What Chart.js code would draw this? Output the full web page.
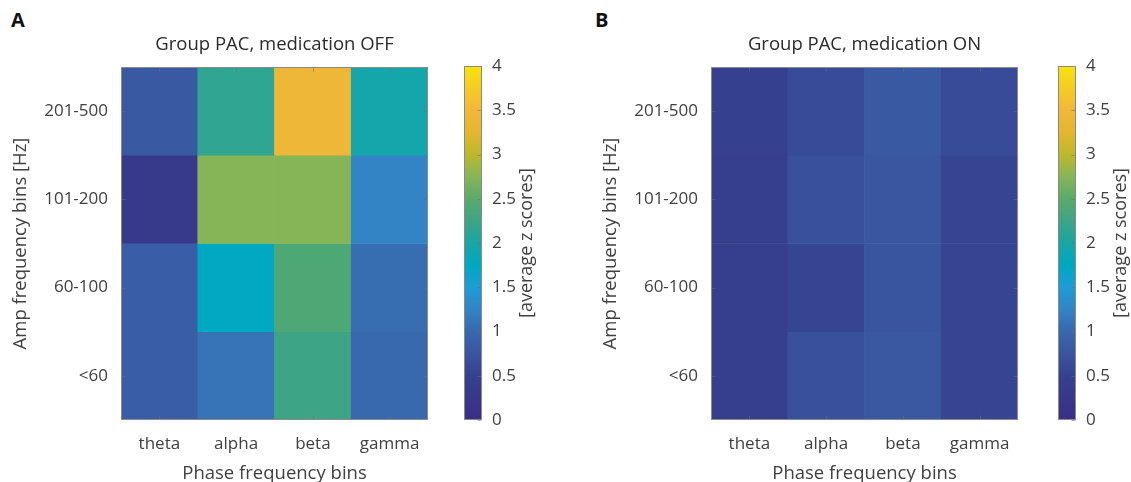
<!DOCTYPE html>
<html><head><meta charset="utf-8">
<script src="https://cdn.jsdelivr.net/npm/chart.js@4"></script>
<style>
html,body{margin:0;padding:0;background:#fff;width:1131px;height:482px;overflow:hidden;position:relative;}
.cv{position:absolute;top:0;}
.letter{position:absolute;font-family:"Open Sans",sans-serif;font-weight:bold;font-size:20px;color:#111;line-height:24px;}
</style></head><body>
<div class="letter" style="left:11px;top:8px">A</div>
<div class="letter" style="left:595px;top:8px">B</div>
<canvas class="cv" id="hA" width="450" height="482" style="left:0px"></canvas>
<canvas class="cv" id="cA" width="110" height="482" style="left:455px"></canvas>
<canvas class="cv" id="hB" width="450" height="482" style="left:590px"></canvas>
<canvas class="cv" id="cB" width="82" height="482" style="left:1049px"></canvas>
<script>
// ---- data ----
const phaseBins = ['theta', 'alpha', 'beta', 'gamma'];
const ampBins = ['201-500', '101-200', '60-100', '<60']; // top to bottom
const offValues = [
  [0.80, 2.15, 3.45, 1.95],
  [0.30, 2.75, 2.75, 1.25],
  [0.85, 1.75, 2.40, 1.05],
  [0.85, 1.10, 2.25, 1.00]
];
const onValues = [
  [0.50, 0.63, 0.80, 0.63],
  [0.45, 0.70, 0.76, 0.55],
  [0.45, 0.55, 0.75, 0.55],
  [0.45, 0.70, 0.77, 0.55]
];
const zMin = 0, zMax = 4, zStep = 0.5;
const titleOff = 'Group PAC, medication OFF';
const titleOn = 'Group PAC, medication ON';
const xTitle = 'Phase frequency bins';
const yTitle = 'Amp frequency bins [Hz]';
const cbTitle = '[average z scores]';

// ---- colormap (muted parula as printed) ----
const cmapStops = [
  [0.00, '#3b2e86'], [0.50, '#35418f'], [0.75, '#3a55a0'], [1.00, '#3868ae'],
  [1.25, '#3284c4'], [1.50, '#1e9cd6'], [1.75, '#00a8c2'], [2.00, '#19a6a4'],
  [2.25, '#3da486'], [2.50, '#5aaa6a'], [2.75, '#86b557'], [3.00, '#bdb82a'],
  [3.25, '#e4b62e'], [3.50, '#f2b73a'], [3.75, '#f5cc24'], [4.00, '#f8e30a']
];
function hex2rgb(h){return [1,3,5].map(i=>parseInt(h.substr(i,2),16));}
function cmap(v){
  v = Math.max(zMin, Math.min(zMax, v));
  for (let i = 1; i < cmapStops.length; i++) {
    const [v1, c1] = cmapStops[i], [v0, c0] = cmapStops[i-1];
    if (v <= v1) {
      const t = (v - v0) / (v1 - v0), a = hex2rgb(c0), b = hex2rgb(c1);
      return 'rgb(' + a.map((x, k) => Math.round(x + (b[k] - x) * t)).join(',') + ')';
    }
  }
  return cmapStops[cmapStops.length-1][1];
}

const FONT = '"Open Sans", "Noto Sans", sans-serif';
const TXT = '#404040';
const nRows = ampBins.length;

const framePlugin = {
  id: 'frame',
  afterDatasetsDraw(chart, args, o) {
    const {ctx, chartArea: a} = chart;
    ctx.save();
    const L = Math.round(a.left) + 0.5, T = Math.round(a.top) + 0.5, R = Math.round(a.right) - 0.5, B = Math.round(a.bottom) - 0.5;
    ctx.strokeStyle = 'rgba(110,110,110,0.55)';
    ctx.lineWidth = 1;
    ctx.beginPath();
    const xs = chart.scales.x, ys = chart.scales.y;
    if (o.xTicks) xs.ticks.forEach((t, i) => { const px = Math.round(xs.getPixelForTick(i)) + 0.5; ctx.moveTo(px, B); ctx.lineTo(px, B - 4); ctx.moveTo(px, T); ctx.lineTo(px, T + 4); });
    ys.ticks.forEach(t => { const py = Math.round(ys.getPixelForValue(t.value)) + 0.5; if (o.yLeft) { ctx.moveTo(L, py); ctx.lineTo(L + 4, py); } ctx.moveTo(R, py); ctx.lineTo(R - 4, py); });
    ctx.stroke();
    ctx.strokeStyle = '#8a8a8a';
    ctx.strokeRect(L, T, R - L, B - T);
    ctx.restore();
  }
};

function heatmap(id, title, values) {
  const datasets = ampBins.map((lab, r) => ({
    label: lab,
    data: phaseBins.map(() => [nRows - 1 - r, nRows - r]),
    backgroundColor: values[r].map(cmap),
    borderWidth: 0,
    grouped: false,
    categoryPercentage: 1,
    barPercentage: 1
  }));
  return new Chart(document.getElementById(id), {
    type: 'bar',
    data: {labels: phaseBins, datasets},
    plugins: [framePlugin],
    options: {
      responsive: false, animation: false,
      layout: {padding: {left: 0, top: 0, right: 22, bottom: 0}},
      plugins: {
        legend: {display: false}, tooltip: {enabled: false},
        title: {display: true, text: title, fullSize: false, color: '#2a2a2a',
          font: {family: FONT, size: 18.5, weight: 'normal'}, padding: {top: 33.5, bottom: 11.3}},
        frame: {xTicks: true, yLeft: true}
      },
      scales: {
        x: {
          grid: {display: false, drawTicks: false}, border: {display: false},
          ticks: {color: TXT, font: {family: FONT, size: 17}, padding: 14},
          title: {display: true, text: xTitle, color: TXT, font: {family: FONT, size: 18.5}, padding: {top: 0, bottom: -3}},
          afterFit(s) { s.height = 62; }
        },
        y: {
          min: 0, max: nRows,
          grid: {display: false, drawTicks: false}, border: {display: false},
          afterBuildTicks(s) { s.ticks = ampBins.map((_, r) => ({value: nRows - 0.5 - r})); },
          ticks: {color: TXT, font: {family: FONT, size: 17}, padding: 13,
            callback: v => ampBins[Math.round(nRows - 0.5 - v)]},
          title: {display: true, text: yTitle, color: TXT, font: {family: FONT, size: 18.5}, padding: {top: 10, bottom: 0}},
          afterFit(s) { s.width = 121; }
        }
      }
    }
  });
}

const gradientPlugin = {
  id: 'cbar',
  beforeDatasetsDraw(chart, args, o) {
    const {ctx, chartArea: a, scales: {y}} = chart;
    const g = ctx.createLinearGradient(0, y.getPixelForValue(zMin), 0, y.getPixelForValue(zMax));
    cmapStops.forEach(([v, c]) => g.addColorStop((v - zMin) / (zMax - zMin), c));
    ctx.save();
    ctx.fillStyle = g;
    ctx.fillRect(a.left, a.top, a.right - a.left, a.bottom - a.top);
    ctx.restore();
  },
  afterDraw(chart, args, o) {
    const {ctx, chartArea: a} = chart;
    ctx.save();
    ctx.fillStyle = TXT;
    ctx.font = '18px ' + FONT;
    ctx.textAlign = 'center';
    ctx.textBaseline = 'middle';
    ctx.translate(a.right + o.labelOffset, (a.top + a.bottom) / 2);
    ctx.rotate(-Math.PI / 2);
    ctx.fillText(o.text, 0, 0);
    ctx.restore();
  }
};

function colorbar(id, padLeft, canvasW) {
  return new Chart(document.getElementById(id), {
    type: 'bar',
    data: {labels: [''], datasets: [{data: []}]},
    plugins: [gradientPlugin, framePlugin],
    options: {
      responsive: false, animation: false,
      layout: {padding: {left: padLeft, top: 66, right: 0, bottom: 62}},
      plugins: {legend: {display: false}, tooltip: {enabled: false},
        cbar: {text: cbTitle, labelOffset: 45},
        frame: {xTicks: false, yLeft: false}},
      scales: {
        x: {display: false},
        y: {
          position: 'right', min: zMin, max: zMax,
          grid: {display: false, drawTicks: false}, border: {display: false},
          ticks: {stepSize: zStep, color: TXT, font: {family: FONT, size: 17}, padding: 10,
            callback: v => String(+v.toFixed(2))},
          afterFit(s) { s.width = canvasW - padLeft - 18; }
        }
      }
    }
  });
}

heatmap('hA', titleOff, offValues);
heatmap('hB', titleOn, onValues);
colorbar('cA', 9, 110);
colorbar('cB', 9, 82);
</script>
</body></html>
